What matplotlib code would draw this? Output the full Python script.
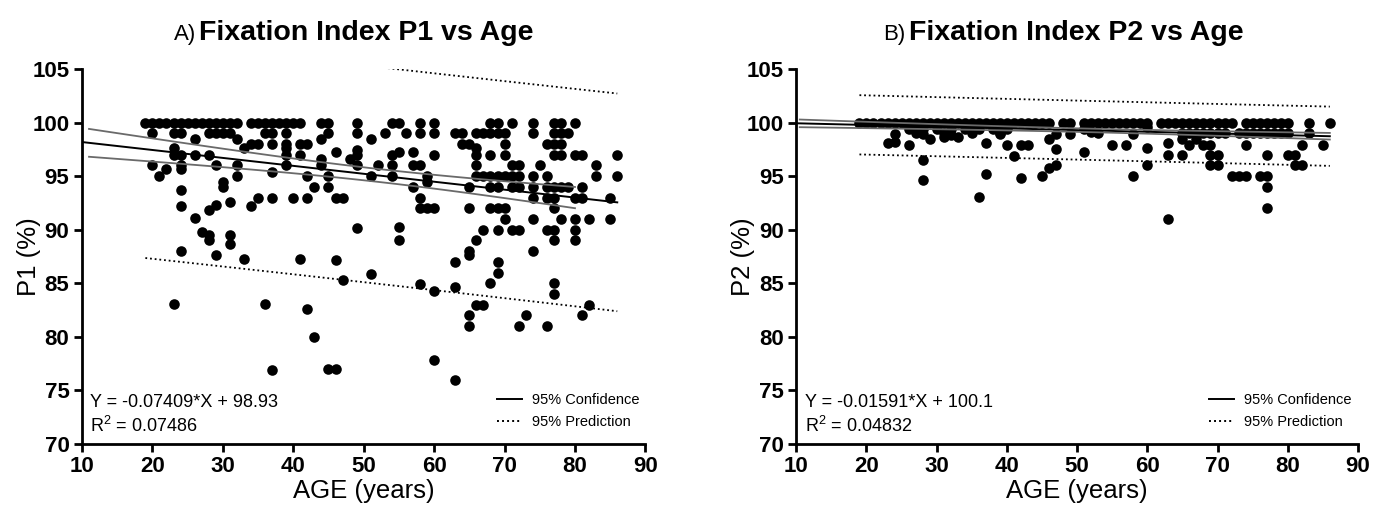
import numpy as np
import matplotlib
matplotlib.use("Agg")
import matplotlib.pyplot as plt
from matplotlib.lines import Line2D

plt.rcParams['font.family'] = ['Liberation Sans', 'DejaVu Sans']
plt.rcParams['mathtext.default'] = 'regular'

# ---- panel A: P1 vs age ----
age_a = (list(range(19, 33)) + list(range(34, 42)) + [44, 45, 49, 54, 55, 58, 60, 68, 69, 71, 74, 77, 78, 80]
         + [20, 23, 24, 28, 29, 30, 31, 36, 37, 39, 45, 49, 53, 56, 58, 60, 63, 64, 66, 67, 68, 69, 70, 74, 77, 78, 79]
         + [26, 32, 51, 44]
         + [34, 35, 37, 39, 41, 42, 64, 65, 70, 76, 77, 78]
         + [23, 33, 39, 66, 46, 55, 57, 49]
         + [23, 24, 26, 28, 39, 41, 49, 54, 60, 66, 68, 70, 77, 78, 80, 81, 86, 44, 48]
         + [20, 24, 29, 32, 39, 44, 49, 52, 54, 57, 58, 66, 71, 72, 75, 83]
         + [22, 24, 37]
         + [21, 32, 42, 45, 51, 54, 59, 66, 67, 68, 69, 70, 71, 72, 74, 76, 83, 86]
         + [30, 30, 59]
         + [24, 43, 45, 57, 65, 68, 69, 71, 72, 74, 76, 77, 78, 79, 81]
         + [35, 37, 40, 47, 58, 74, 76, 77, 80, 81, 85, 42, 46]
         + [31, 29, 24, 34, 58, 59, 60, 65, 68, 69, 70, 77, 28]
         + [26, 70, 74, 78, 80, 82, 85]
         + [27, 49, 55, 67, 69, 71, 72, 76, 77, 80]
         + [28, 28, 31, 31, 55, 66, 77, 80]
         + [24, 65, 74, 65, 29, 33, 41, 46, 63, 69]
         + [69, 51, 47, 68, 77, 58, 63, 60, 77]
         + [23, 36, 66, 67, 82, 42, 65, 73, 81, 65, 72, 76]
         + [43, 60, 45, 46, 37, 63])
p1 = ([100] * 36
      + [99] * 27
      + [98.5] * 4
      + [98] * 12
      + [97.6, 97.6, 97.6, 97.6, 97.3, 97.3, 97.3, 97.4]
      + [97] * 17 + [96.6, 96.6]
      + [96] * 16
      + [95.7, 95.7, 95.4]
      + [95] * 18
      + [94.5, 94, 94.5]
      + [93.7] + [94] * 14
      + [93] * 13
      + [92.6, 92.3, 92.2, 92.2] + [92] * 8 + [91.8]
      + [91.1] + [91] * 6
      + [89.8] + [90.2] + [90.3] + [90] * 7
      + [89.5, 89, 89.5, 88.7, 89, 89, 89, 89]
      + [88, 88, 88, 87.6, 87.6, 87.3, 87.3, 87.2, 87, 87]
      + [86, 85.9, 85.3, 85, 85, 84.9, 84.7, 84.3, 84]
      + [83.1, 83.1, 83, 83, 83, 82.6, 82, 82, 82, 81, 81, 81]
      + [80, 77.8, 77, 77, 76.9, 76])

# ---- panel B: P2 vs age ----
age_b = (list(range(19, 47)) + [48, 49, 51, 52] + list(range(53, 61)) + list(range(62, 73)) + list(range(74, 81)) + [83, 86]
         + [26, 28, 30, 32, 34, 36, 38, 40, 27, 31, 35, 39]
         + [53] + list(range(65, 72)) + list(range(73, 81)) + [83]
         + [24, 23, 24, 26, 27, 28, 29, 28, 28, 31, 32, 33, 35, 37, 37, 36, 39, 40, 41, 42, 43, 42, 45,
            46, 46, 47, 47, 47, 49, 51, 51, 52]
         + [55, 57, 58, 60, 60, 60, 58, 63, 63, 63, 65, 65, 66, 67, 68, 69, 69, 70, 69, 70,
            72, 73, 74, 74, 76, 77, 77, 77, 77, 80, 81, 81, 82, 82, 85])
p2 = ([100] * 60
      + [99.4] * 8 + [99] * 4
      + [99] * 17
      + [98.9, 98.1, 98.2, 97.9, 99.3, 98.9, 98.5, 96.5, 94.6, 98.7, 98.8, 98.7, 99.3, 98.1, 95.2, 93.1,
         98.9, 97.9, 96.9, 97.9, 97.9, 94.8, 95, 98.5, 95.8, 96, 97.5, 98.9, 98.9, 99.4, 97.3, 99.1]
      + [97.9, 97.9, 98.9, 99.6, 97.6, 96, 95, 98.1, 97, 91, 98.5, 97, 97.9, 98.5, 97.9, 97.9, 97, 97, 96, 96,
         95, 95, 95, 97.9, 95, 95, 97, 94, 92, 97, 97, 96, 96, 97.9, 97.9])

# regression results shown on the chart
slope_a, icpt_a, r2_a = -0.07409, 98.93, 0.07486
slope_b, icpt_b, r2_b = -0.01591, 100.1, 0.04832
# band parameters (t*s, n, mean age, Sxx), estimated from the band widths
ts_a, ts_b = 10.1, 2.75
n_obs, age_mean, age_sxx = 280, 52.0, 129300.0


def half_widths(x, ts):
    core = 1.0 / n_obs + (x - age_mean) ** 2 / age_sxx
    return ts * np.sqrt(core), ts * np.sqrt(1 + core)


def draw_panel(ax, ages, vals, slope, icpt, r2, ts, conf_rng, ylab, letter, title, tx):
    ax.scatter(ages, vals, s=58, color='black', zorder=3, linewidths=0)

    xf = np.linspace(10, 86, 100)
    ax.plot(xf, icpt + slope * xf, color='black', lw=1.4, zorder=4)

    xc = np.linspace(conf_rng[0], conf_rng[1], 100)
    conf, _ = half_widths(xc, ts)
    ax.plot(xc, icpt + slope * xc + conf, color='#6a6a6a', lw=1.3, zorder=4)
    ax.plot(xc, icpt + slope * xc - conf, color='#6a6a6a', lw=1.3, zorder=4)

    xp = np.linspace(19, 86, 100)
    _, pred = half_widths(xp, ts)
    ax.plot(xp, icpt + slope * xp + pred, color='black', lw=1.3, ls=(0, (1, 1.6)))
    ax.plot(xp, icpt + slope * xp - pred, color='black', lw=1.3, ls=(0, (1, 1.6)))

    ax.set_xlim(10, 90)
    ax.set_ylim(70, 105)
    ax.set_xticks(range(10, 91, 10))
    ax.set_yticks(range(70, 106, 5))
    for s in ['top', 'right']:
        ax.spines[s].set_visible(False)
    for s in ['left', 'bottom']:
        ax.spines[s].set_linewidth(2)
    ax.tick_params(width=2, length=6, labelsize=16, pad=3)
    for lab in ax.get_xticklabels() + ax.get_yticklabels():
        lab.set_fontweight('bold')
    ax.set_xlabel('AGE (years)', fontsize=18.5, labelpad=1)
    ax.set_ylabel(ylab, fontsize=18.5, labelpad=-6)

    sign = '-' if slope < 0 else '+'
    ax.text(11.2, 73.45, f'Y = {sign}{abs(slope):.5f}*X + {icpt:g}', fontsize=13, va='baseline')
    ax.text(11.2, 71.1, f'R$^2$ = {r2:.5f}', fontsize=13, va='baseline')

    handles = [Line2D([], [], color='black', lw=1.4),
               Line2D([], [], color='black', lw=1.4, ls=(0, (1, 1.6)))]
    ax.legend(handles, ['95% Confidence', '95% Prediction'], loc='lower right',
              bbox_to_anchor=(1.01, 0.008), frameon=False, fontsize=10.5,
              handlelength=1.7, handletextpad=0.7, labelspacing=0.55, borderpad=0.3)

    ax.text(tx, 1.078, letter, transform=ax.transAxes, fontsize=16, ha='right', va='baseline')
    ax.text(tx + 0.006, 1.078, title, transform=ax.transAxes, fontsize=20.5,
            fontweight='bold', ha='left', va='baseline')


fig = plt.figure(figsize=(13.8, 5.08), dpi=100)
ax1 = fig.add_axes([0.0594, 0.126, 0.4083, 0.738])
ax2 = fig.add_axes([0.5770, 0.126, 0.4070, 0.738])

draw_panel(ax1, age_a, p1, slope_a, icpt_a, r2_a, ts_a, (11, 80), 'P1 (%)', 'A)',
           'Fixation Index P1 vs Age', 0.202)
draw_panel(ax2, age_b, p2, slope_b, icpt_b, r2_b, ts_b, (10.5, 86), 'P2 (%)', 'B)',
           'Fixation Index P2 vs Age', 0.195)

fig.savefig('out.png', dpi=100)
